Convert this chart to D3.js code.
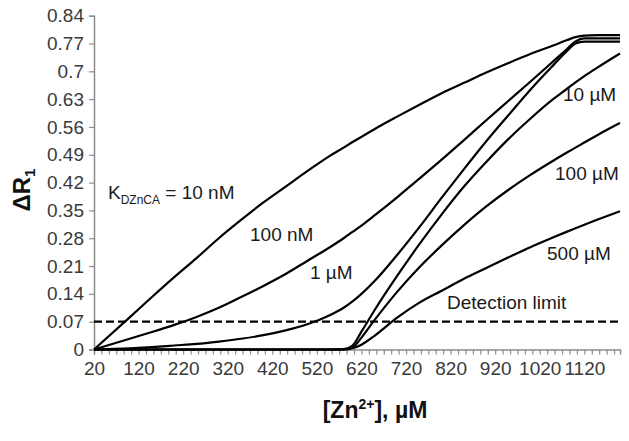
<!DOCTYPE html>
<html><head><meta charset="utf-8">
<script src="https://cdn.jsdelivr.net/npm/d3@7"></script>
<style>
body{margin:0;background:#fff;}
text{font-family:"Liberation Sans Narrow","Arial Narrow","Liberation Sans",Arial,sans-serif;}
</style></head>
<body><svg id="c" width="629" height="441"></svg>
<script>
const zn = [20,100,150,200,250,300,350,400,450,500,550,580,600,620,650,700,750,800,850,900,950,1000,1050,1080,1100,1120,1150,1200];
const kd10nM  = [0,0.081,0.132,0.182,0.23,0.28,0.326,0.37,0.41,0.45,0.488,0.508,0.522,0.535,0.555,0.586,0.616,0.645,0.671,0.697,0.721,0.744,0.765,0.778,0.786,0.79,0.791,0.791];
const kd100nM = [0,0.027,0.044,0.062,0.082,0.105,0.132,0.16,0.19,0.224,0.258,0.28,0.296,0.312,0.338,0.383,0.43,0.478,0.527,0.577,0.626,0.675,0.725,0.755,0.775,0.783,0.783,0.783];
const kd1uM   = [0,0.003,0.006,0.01,0.014,0.02,0.027,0.036,0.048,0.064,0.087,0.105,0.121,0.14,0.173,0.238,0.308,0.382,0.454,0.524,0.59,0.655,0.715,0.75,0.77,0.775,0.775,0.775];
const kd10uM  = [0,0,0,0,0,0,0,0,0,0,0,0.001,0.01,0.045,0.1,0.185,0.265,0.34,0.41,0.472,0.53,0.582,0.63,0.655,0.672,0.688,0.71,0.745];
const kd100uM = [0,0,0,0,0,0,0,0,0,0,0,0,0.005,0.03,0.075,0.145,0.207,0.262,0.313,0.36,0.402,0.44,0.475,0.495,0.508,0.521,0.54,0.57];
const kd500uM = [0,0,0,0,0,0,0,0,0,0,0,0,0.003,0.012,0.035,0.08,0.118,0.148,0.178,0.205,0.232,0.258,0.282,0.296,0.305,0.314,0.327,0.348];
const seriesNames = ["10 nM","100 nM","1 \u00b5M","10 \u00b5M","100 \u00b5M","500 \u00b5M"];
const seriesValues = [kd10nM,kd100nM,kd1uM,kd10uM,kd100uM,kd500uM];
const detectionLimit = 0.07;
const yTicks = [0,0.07,0.14,0.21,0.28,0.35,0.42,0.49,0.56,0.63,0.7,0.77,0.84];
const xTickLabels = [20,120,220,320,420,520,620,720,820,920,1020,1120];

const svg = d3.select("#c");
const x = d3.scaleLinear().domain([20,1200]).range([94,620]);
const y = d3.scaleLinear().domain([0,0.84]).range([349.5,15.7]);
const axisColor = "#8c8c8c", textColor = "#3a3a3a";

// y axis
const ya = svg.append("g").attr("transform","translate(94,0)")
  .call(d3.axisLeft(y).tickValues(yTicks).tickSize(5).tickPadding(4)
    .tickFormat(d=>String(+d.toFixed(2))));
ya.select(".domain").attr("stroke",axisColor).attr("stroke-width",1.5);
ya.selectAll(".tick line").attr("stroke",axisColor).attr("stroke-width",1.2);
ya.selectAll(".tick text").attr("fill",textColor).attr("font-size",19).attr("dx",-1);

// x axis minor ticks
const minor = d3.range(20,1200.01,100/6);
const xa = svg.append("g").attr("transform","translate(0,349.5)")
  .call(d3.axisBottom(x).tickValues(minor).tickSize(5).tickFormat(""));
xa.select(".domain").attr("stroke",axisColor).attr("stroke-width",1.5);
xa.selectAll(".tick line").attr("stroke",axisColor).attr("stroke-width",1.2);
const xl = svg.append("g").attr("transform","translate(0,349.5)")
  .call(d3.axisBottom(x).tickValues(xTickLabels).tickSize(0).tickPadding(12).tickFormat(d=>String(d)));
xl.select(".domain").remove();
xl.selectAll(".tick text").attr("fill",textColor).attr("font-size",19);

// detection limit
svg.append("line").attr("x1",x(20)).attr("x2",x(1200)).attr("y1",y(detectionLimit)).attr("y2",y(detectionLimit))
  .attr("stroke","#000").attr("stroke-width",2.2).attr("stroke-dasharray","8,4");

// curves
const line = d3.line().x((d,i)=>x(zn[i])).y(d=>y(d)).curve(d3.curveMonotoneX);
svg.append("g").selectAll("path").data(seriesValues).join("path")
  .attr("d",line).attr("fill","none").attr("stroke","#000").attr("stroke-width",2.2);

// curve labels
const lab = (tx,ty,str)=>svg.append("text").attr("x",tx).attr("y",ty).attr("font-size",19).attr("fill","#1a1a1a").text(str);
const k = svg.append("text").attr("x",108).attr("y",199).attr("font-size",19).attr("fill","#1a1a1a");
k.append("tspan").text("K");
k.append("tspan").attr("font-size",12).attr("dy",5).text("DZnCA");
k.append("tspan").attr("dy",-5).text(" = " + seriesNames[0]);
lab(250,241,seriesNames[1]);
lab(310,279,seriesNames[2]);
lab(563,101,seriesNames[3]);
lab(555,180,seriesNames[4]);
lab(547,260,seriesNames[5]);
lab(447,309,"Detection limit");

// axis titles
const xt = svg.append("text").attr("x",375).attr("y",418).attr("text-anchor","middle")
  .attr("font-size",23).attr("font-weight","bold").attr("fill","#111");
xt.append("tspan").text("[Zn");
xt.append("tspan").attr("font-size",14).attr("dy",-9).text("2+");
xt.append("tspan").attr("dy",9).text("], \u00b5M");
const yt = svg.append("text").attr("transform","translate(30,190) rotate(-90)").attr("text-anchor","middle")
  .attr("font-size",24).attr("font-weight","bold").attr("fill","#111");
yt.append("tspan").text("\u0394R");
yt.append("tspan").attr("font-size",15).attr("dy",5).text("1");
</script></body></html>
